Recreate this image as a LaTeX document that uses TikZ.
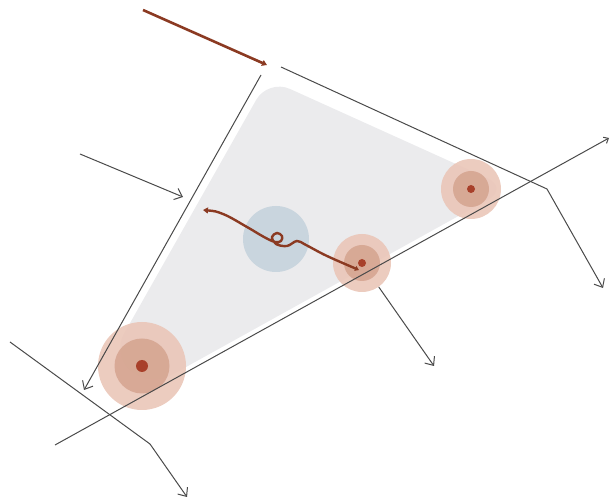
\documentclass[tikz,border=0pt]{standalone}
\usetikzlibrary{arrows.meta}
\definecolor{lineg}{HTML}{4A4A4A}
\definecolor{rust}{HTML}{8B3A22}
\definecolor{greyfill}{HTML}{EBEBED}
\definecolor{ringout}{HTML}{EAC6B8}
\definecolor{ringmid}{HTML}{D3A18C}
\definecolor{ringdot}{HTML}{A8402A}
\definecolor{bluec}{HTML}{C9D5DE}
\begin{document}
\begin{tikzpicture}[x=1pt,y=-1pt,
  gline/.style={draw=lineg, line width=1pt},
  garrow/.style={gline, -{Straight Barb[length=7pt,width=12pt]}},
  rarrow/.style={draw=rust, line width=2.6pt, -{Triangle[length=5pt,width=6pt]}},
  outerring/.style={circle, fill=ringout, opacity=0.9, inner sep=0pt, draw=none},
  midring/.style={circle, fill=ringmid, opacity=0.8, inner sep=0pt, draw=none},
  centerdot/.style={circle, fill=ringdot, inner sep=0pt, draw=none},
  bluedisk/.style={circle, fill=bluec, inner sep=0pt, draw=none}]
\useasboundingbox (0,0) rectangle (611,502);
% grey region
\fill[greyfill, rounded corners=24pt] (268,79) -- (509,188) -- (150,387) -- (112,355) -- cycle;
% blue disk
\node[bluedisk, minimum size=66pt] (blue) at (276,239) {};
% circles
\node[outerring, minimum size=88pt] (c1o) at (142,366) {};
\node[midring, minimum size=55pt] (c1m) at (142,366) {};
\node[centerdot, minimum size=12pt] (c1) at (142,366) {};
\node[outerring, minimum size=60pt] (c3o) at (471,189) {};
\node[midring, minimum size=36pt] (c3m) at (471,189) {};
\node[centerdot, minimum size=8pt] (c3) at (471,189) {};
\node[outerring, minimum size=58pt] (c2o) at (362,263) {};
\node[midring, minimum size=36pt] (c2m) at (362,263) {};
\node[centerdot, minimum size=8pt] (c2) at (362,263) {};
% coordinates
\coordinate (t1) at (143,10);
\coordinate (t2) at (267,65);
\coordinate (a1) at (281,67);
\coordinate (a2) at (547,189);
\coordinate (a3) at (603,288);
\coordinate (b1) at (261,75);
\coordinate (b2) at (84,390);
\coordinate (x1) at (55,445);
\coordinate (x2) at (609,138);
\coordinate (d1) at (10,342);
\coordinate (d2) at (150,444);
\coordinate (d3) at (187,497);
\coordinate (e1) at (80,154);
\coordinate (e2) at (183,197);
\coordinate (f2) at (434,366);
% gray lines
\draw[garrow] (a1) -- (a2) -- (a3);
\draw[garrow] (b1) -- (b2);
\draw[gline, -{Straight Barb[length=4pt,width=7pt]}] (x1) -- (x2);
\draw[garrow] (d1) -- (d2) -- (d3);
\draw[garrow] (e1) -- (e2);
\draw[garrow] (c2o) -- (f2);
% brown arrows
\draw[rarrow] (t1) -- (t2);
\draw[draw=rust, line width=2.4pt, line cap=round, {Triangle[length=5pt,width=6pt]}-{Triangle[length=4pt,width=5pt]}]
  plot[smooth, tension=0.6] coordinates {(203,210) (223,214) (247,227) (264,237) (275,242) (281,241) (282,236) (277,233) (272,237) (276,244) (287,246) (297,241) (306,245) (327,256) (359,270)};
\end{tikzpicture}
\end{document}
